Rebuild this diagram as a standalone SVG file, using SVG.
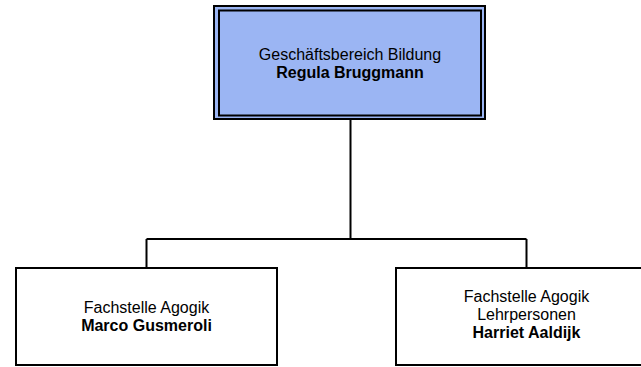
<svg xmlns="http://www.w3.org/2000/svg" width="641" height="367" viewBox="0 0 641 367">
<style>
.box{fill:#ffffff;stroke:#000000;stroke-width:2}
.top{fill:#9bb5f3;stroke:#000000;stroke-width:2}
.t{font-family:"Liberation Sans",Arial,sans-serif;font-size:16px;fill:#000000;text-anchor:middle}
.b{font-weight:bold}
.c{fill:none;stroke:#000000;stroke-width:2}
</style>
<rect width="641" height="367" fill="#ffffff"/>
<g id="connectors">
<path class="c" d="M350.5 119 V239 M146.5 239 H526.5 M146.5 239 V268 M526.5 239 V268"/>
</g>
<g id="node-bildung">
<rect class="top" x="214" y="6" width="271" height="113"/>
<rect class="top" x="219" y="10.5" width="262" height="105"/>
<text class="t" x="350" y="60">Geschäftsbereich Bildung</text>
<text class="t b" x="350" y="78">Regula Bruggmann</text>
</g>
<g id="node-agogik">
<rect class="box" x="16" y="268" width="261" height="97"/>
<text class="t" x="146.5" y="313">Fachstelle Agogik</text>
<text class="t b" x="146.5" y="331">Marco Gusmeroli</text>
</g>
<g id="node-lehrpersonen">
<rect class="box" x="396" y="268" width="261" height="97"/>
<text class="t" x="526.5" y="302">Fachstelle Agogik</text>
<text class="t" x="526.5" y="320">Lehrpersonen</text>
<text class="t b" x="526.5" y="338">Harriet Aaldijk</text>
</g>
</svg>
